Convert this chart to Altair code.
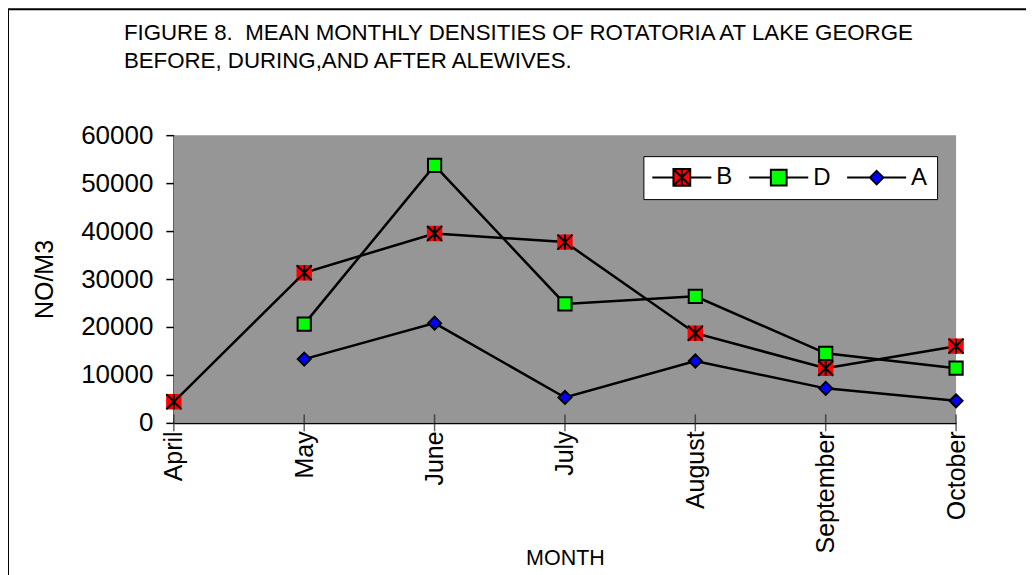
import altair as alt
import pandas as pd

months = ["April", "May", "June", "July", "August", "September", "October"]
series_names = ["B", "D", "A"]
b_values = [4400, 31300, 39500, 37700, 18700, 11400, 16000]
d_values = [None, 20600, 53700, 24800, 26400, 14500, 11400]
a_values = [None, 13300, 20800, 5300, 12900, 7200, 4600]
fill_colors = ["#ff0000", "#00ff00", "#0000ff"]
y_ticks = [0, 10000, 20000, 30000, 40000, 50000, 60000]
title_lines = [
    "FIGURE 8.\u00a0 MEAN MONTHLY DENSITIES OF ROTATORIA AT LAKE GEORGE",
    "BEFORE, DURING,AND AFTER ALEWIVES.",
]

rows = []
for name, vals in zip(series_names, [b_values, d_values, a_values]):
    for m, v in zip(months, vals):
        if v is not None:
            rows.append({"month": m, "series": name, "value": v})
df = pd.DataFrame(rows)
month_df = pd.DataFrame({"month": months})

FONT = "Liberation Sans"
W, H = 783, 288

x_enc = alt.X(
    "month:O",
    sort=months,
    scale=alt.Scale(type="point", padding=0),
    axis=alt.Axis(
        title="MONTH", labelAngle=270, labelAlign="right", labelBaseline="middle",
        labelFontSize=25, labelPadding=8, ticks=False,
        domainColor="black", domainWidth=2, labelColor="black", titleColor="black",
        titleFontSize=21.5, titleFontWeight="normal", titleX=W / 2, titleY=136,
        titleAlign="center", titleBaseline="middle",
    ),
)
y_enc = alt.Y(
    "value:Q",
    scale=alt.Scale(domain=[0, 60000], nice=False),
    axis=alt.Axis(
        values=y_ticks, format="d", grid=False, title="NO/M3",
        labelFontSize=26, labelPadding=13, tickSize=8, tickColor="black", tickWidth=1.5,
        domainColor="black", domainWidth=2, labelColor="black", titleColor="black",
        titleFontSize=25, titleFontWeight="normal", titleAngle=270, titleX=-129,
        titleY=H / 2, titleAlign="center", titleBaseline="middle",
    ),
)

base = alt.Chart(df)
frame_df = pd.DataFrame({"k": [0]})

plot_bg = alt.Chart(frame_df).mark_rect(color="#969696").encode(
    x=alt.value(0), x2=alt.value(W), y=alt.value(0), y2=alt.value(H)
)

x_ticks = alt.Chart(month_df).mark_tick(
    orient="vertical", size=17, thickness=1.5, color="#222222"
).encode(x=x_enc, y=alt.value(H))

lines = base.mark_line(color="black", strokeWidth=2.5).encode(
    x=x_enc, y=y_enc, detail="series:N"
)

points = base.mark_point(filled=True, opacity=1, strokeWidth=2).encode(
    x=x_enc,
    y=y_enc,
    fill=alt.Fill(
        "series:N", scale=alt.Scale(domain=series_names, range=fill_colors), legend=None
    ),
    shape=alt.Shape(
        "series:N",
        scale=alt.Scale(domain=series_names, range=["square", "square", "diamond"]),
        legend=None,
    ),
    size=alt.Size(
        "series:N", scale=alt.Scale(domain=series_names, range=[180, 169, 121]), legend=None
    ),
    stroke=alt.Stroke(
        "series:N",
        scale=alt.Scale(domain=series_names, range=["#ff0000", "black", "black"]),
        legend=None,
    ),
)

b_cross = (
    alt.Chart(df[df["series"] == "B"])
    .mark_point(
        shape="M-1,-1L1,1M-1,1L1,-1M0,-1L0,1", size=225, stroke="black",
        strokeWidth=2, filled=False, opacity=1,
    )
    .encode(x=x_enc, y=y_enc)
)

legend_paths = [
    "M-3.94,0L-1.12,0M1.12,0L3.94,0M-1.12,-1.12L1.12,-1.12L1.12,1.12L-1.12,1.12Z"
    "M-1.12,-1.12L1.12,1.12M-1.12,1.12L1.12,-1.12M0,-1.12L0,1.12",
    "M-3.94,0L-1.05,0M1.05,0L3.94,0M-1.05,-1.05L1.05,-1.05L1.05,1.05L-1.05,1.05Z",
    "M-3.94,0L-0.9,0M0.9,0L3.94,0M0,-0.9L0.9,0L0,0.9L-0.9,0Z",
]
legend_def = alt.Legend(
    title=None, orient="none", legendX=470, legendY=21, direction="horizontal",
    fillColor="white", strokeColor="black", padding=9, symbolOffset=17.5,
    labelOffset=22.5, columnPadding=11, labelFontSize=24, labelColor="black",
    symbolSize=225, symbolStrokeColor="black", symbolStrokeWidth=2, symbolOpacity=1,
)
legend_layer = (
    base.transform_filter("false")
    .mark_point(filled=True, opacity=1, stroke="black", strokeWidth=2)
    .encode(
        fill=alt.Fill(
            "series:N", scale=alt.Scale(domain=series_names, range=fill_colors),
            legend=legend_def,
        ),
        shape=alt.Shape(
            "series:N", scale=alt.Scale(domain=series_names, range=legend_paths),
            legend=legend_def,
        ),
        stroke=alt.Stroke(
            "series:N", scale=alt.Scale(domain=series_names, range=["black", "black", "black"]),
            legend=legend_def,
        ),
    )
)

top_line = alt.Chart(frame_df).mark_rule(color="black", strokeWidth=2).encode(
    x=alt.value(-166), x2=alt.value(880), y=alt.value(-126)
)
left_line = alt.Chart(frame_df).mark_rule(color="black", strokeWidth=2).encode(
    x=alt.value(-166), y=alt.value(-126), y2=alt.value(460)
)

chart = (
    alt.layer(plot_bg, x_ticks, lines, points, b_cross, legend_layer, top_line, left_line)
    .resolve_scale(shape="independent", fill="independent", stroke="independent")
    .properties(
        width=W,
        height=H,
        title=alt.TitleParams(
            text=title_lines, anchor="start", frame="group", dx=-50, offset=0, dy=64,
            fontSize=22.3, fontWeight="normal", lineHeight=28, color="black", font=FONT,
        ),
        autosize=alt.AutoSizeParams(type="none"),
        padding={"left": 166, "top": 127, "right": 70, "bottom": 160},
    )
    .configure(font=FONT)
    .configure_view(strokeWidth=0)
)

chart.save("out.html", embed_options={"renderer": "svg", "actions": False})
